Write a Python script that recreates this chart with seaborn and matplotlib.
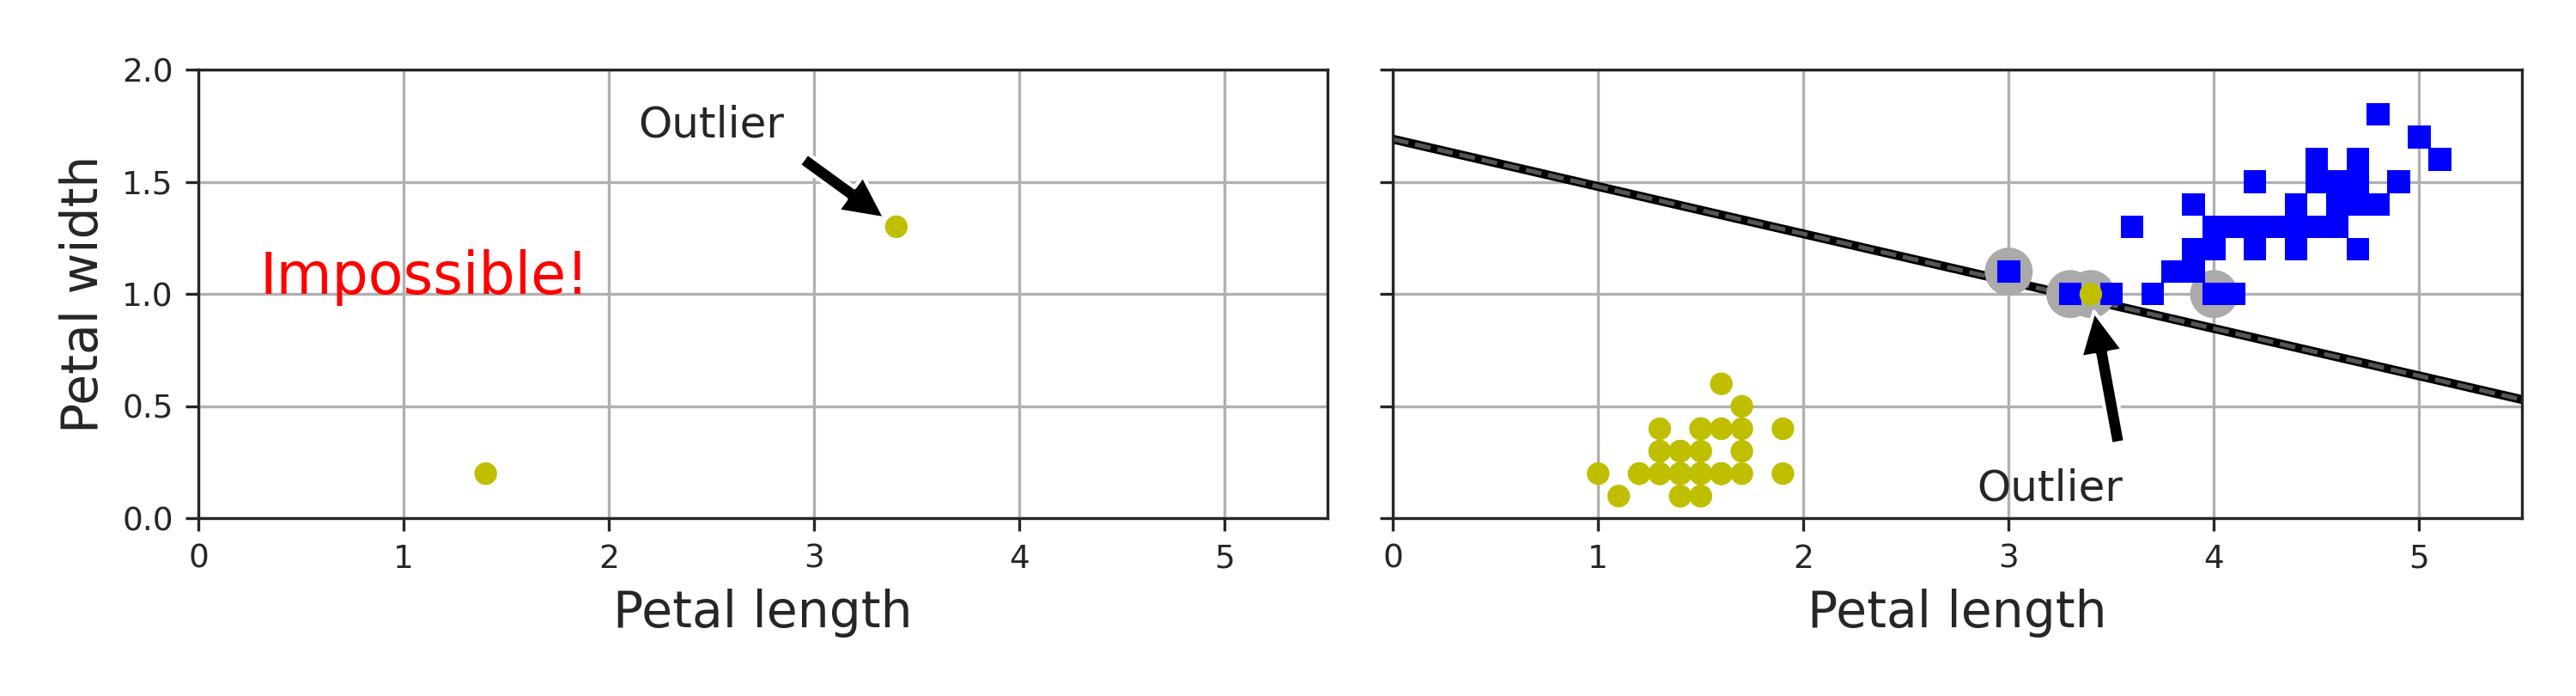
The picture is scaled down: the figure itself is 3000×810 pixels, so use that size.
import numpy as np
import pandas as pd
import matplotlib
matplotlib.use("Agg")
import matplotlib.pyplot as plt
import seaborn as sns

setosa_len = [1.4,1.4,1.3,1.5,1.4,1.7,1.4,1.5,1.4,1.5,1.5,1.6,1.4,1.1,1.2,1.5,1.3,1.4,1.7,1.5,1.7,1.5,1.0,1.7,1.9,
              1.6,1.6,1.5,1.4,1.6,1.6,1.5,1.5,1.4,1.5,1.2,1.3,1.4,1.3,1.5,1.3,1.3,1.3,1.6,1.9,1.4,1.6,1.4,1.5,1.4]
setosa_wid = [0.2,0.2,0.2,0.2,0.2,0.4,0.3,0.2,0.2,0.1,0.2,0.2,0.1,0.1,0.2,0.4,0.4,0.3,0.3,0.3,0.2,0.4,0.2,0.5,0.2,
              0.2,0.4,0.2,0.2,0.2,0.2,0.4,0.1,0.2,0.2,0.2,0.2,0.1,0.2,0.2,0.3,0.3,0.2,0.6,0.4,0.3,0.2,0.2,0.2,0.2]
versi_len = [4.7,4.5,4.9,4.0,4.6,4.5,4.7,3.3,4.6,3.9,3.5,4.2,4.0,4.7,3.6,4.4,4.5,4.1,4.5,3.9,4.8,4.0,4.9,4.7,4.3,
             4.4,4.8,5.0,4.5,3.5,3.8,3.7,3.9,5.1,4.5,4.5,4.7,4.4,4.1,4.0,4.4,4.6,4.0,3.3,4.2,4.2,4.2,4.3,3.0,4.1]
versi_wid = [1.4,1.5,1.5,1.3,1.5,1.3,1.6,1.0,1.3,1.4,1.0,1.5,1.0,1.4,1.3,1.4,1.5,1.0,1.5,1.1,1.8,1.3,1.5,1.2,1.3,
             1.4,1.4,1.7,1.5,1.0,1.1,1.0,1.2,1.6,1.5,1.6,1.5,1.3,1.3,1.3,1.2,1.4,1.2,1.0,1.3,1.2,1.3,1.3,1.1,1.3]

left_len = [1.4, 3.4]
left_wid = [0.2, 1.3]
outlier_right = (3.4, 1.0)
sv_len = [3.0, 3.3, 3.4, 4.0]
sv_wid = [1.1, 1.0, 1.0, 1.0]
boundary_x = [0.0, 5.5]
boundary_y = [1.69, 0.53]

sns.set_style("ticks", {"axes.grid": True, "grid.color": "#b0b0b0"})
plt.rcParams["font.family"] = ["DejaVu Sans"]

fig, axes = plt.subplots(1, 2, figsize=(10, 2.7), dpi=300, sharey=True)
fig.subplots_adjust(left=0.077, right=0.979, top=0.90, bottom=0.255, wspace=0.058)

ax = axes[0]
sns.scatterplot(x=left_len, y=left_wid, ax=ax, color="y", s=40, edgecolor="none")
ax.text(0.3, 1.0, "Impossible!", color="red", fontsize=16)
ax.annotate("Outlier", xy=(3.4, 1.3), xytext=(2.5, 1.7), ha="center", fontsize=12,
            arrowprops=dict(facecolor="black", shrink=0.1))
ax.set_xlabel("Petal length", fontsize=14)
ax.set_ylabel("Petal width", fontsize=14)

ax = axes[1]
ax.plot(boundary_x, boundary_y, "k-", lw=2.5)
ax.plot(boundary_x, boundary_y, "--", color="#555555", lw=1.2)
sns.scatterplot(x=sv_len, y=sv_wid, ax=ax, color="#AAAAAA", s=180, edgecolor="none", zorder=3)
sns.scatterplot(x=versi_len, y=versi_wid, ax=ax, color="b", marker="s", s=40, edgecolor="none", zorder=4)
sns.scatterplot(x=setosa_len + [outlier_right[0]], y=setosa_wid + [outlier_right[1]], ax=ax,
                color="y", s=40, edgecolor="none", zorder=4)
ax.annotate("Outlier", xy=outlier_right, xytext=(3.2, 0.08), ha="center", fontsize=12,
            arrowprops=dict(facecolor="black", shrink=0.1))
ax.set_xlabel("Petal length", fontsize=14)

for ax in axes:
    ax.set_xlim(0, 5.5)
    ax.set_ylim(0, 2)
    ax.tick_params(labelsize=9)
    for s in ax.spines.values():
        s.set_visible(True)

fig.savefig("out.png")
